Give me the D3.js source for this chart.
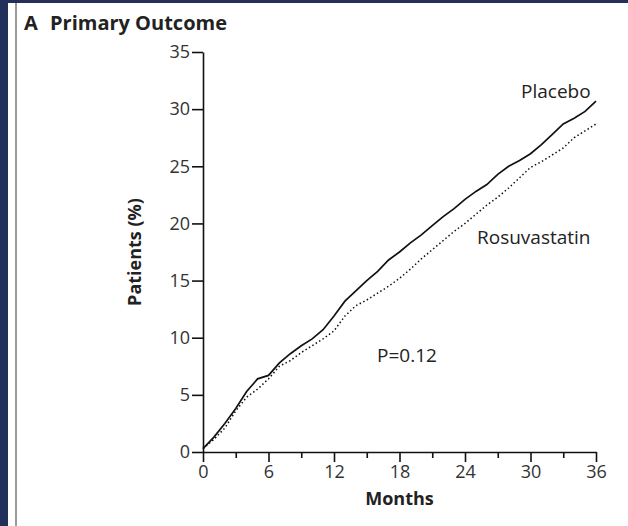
<!DOCTYPE html>
<html>
<head>
<meta charset="utf-8">
<script src="https://cdn.jsdelivr.net/npm/d3@7"></script>
<style>
  body { margin: 0; background: #fff; }
  svg text { font-family: "Open Sans", sans-serif; fill: #222; }
  .axis path, .axis line { stroke: #111; stroke-width: 1.6; }
  .axis text { font-size: 18px; fill: #333; }
  .title { font-weight: bold; font-size: 18px; }
</style>
</head>
<body>
<svg width="628" height="526"></svg>
<script>
// data (cumulative % of patients by month)
var months = [0, 1, 2, 3, 4, 5, 6, 7, 8, 9, 10, 11, 12, 13, 14, 15, 16, 17, 18,
              19, 20, 21, 22, 23, 24, 25, 26, 27, 28, 29, 30, 31, 32, 33, 34, 35, 36];
var placebo = [0.3, 1.3, 2.5, 3.8, 5.3, 6.4, 6.7, 7.8, 8.6, 9.3, 9.9, 10.7, 11.9, 13.2,
               14.1, 15.0, 15.8, 16.8, 17.5, 18.3, 19.0, 19.8, 20.6, 21.3, 22.1, 22.8,
               23.4, 24.3, 25.0, 25.5, 26.1, 26.9, 27.8, 28.7, 29.2, 29.8, 30.7];
var rosuvastatin = [0.3, 1.1, 2.1, 3.6, 4.8, 5.5, 6.4, 7.5, 8.0, 8.7, 9.3, 9.9, 10.6, 11.9,
                    12.8, 13.3, 13.9, 14.5, 15.2, 16.0, 16.9, 17.7, 18.5, 19.3, 20.0, 20.8,
                    21.6, 22.3, 23.1, 24.0, 24.9, 25.4, 26.0, 26.6, 27.5, 28.1, 28.7];
var xTicks = [0, 3, 6, 9, 12, 15, 18, 21, 24, 27, 30, 33, 36];
var yTicks = [0, 5, 10, 15, 20, 25, 30, 35];

var svg = d3.select("svg"),
    margin = { top: 52, right: 32, bottom: 74, left: 203 },
    width = +svg.attr("width") - margin.left - margin.right,
    height = +svg.attr("height") - margin.top - margin.bottom;

// page frame: navy strips and grey rule
svg.append("rect").attr("x", 0).attr("y", 0).attr("width", 628).attr("height", 3).attr("fill", "#23305c");
svg.append("rect").attr("x", 0).attr("y", 0).attr("width", 8).attr("height", 526).attr("fill", "#23305c");
svg.append("rect").attr("x", 15).attr("y", 3).attr("width", 2).attr("height", 523).attr("fill", "#9a9a9a");

var g = svg.append("g")
    .attr("transform", "translate(" + margin.left + "," + margin.top + ")");

var xScale = d3.scaleLinear().domain([0, 36]).range([0, width]),
    yScale = d3.scaleLinear().domain([0, 35]).range([height, 0]);

// x axis, labelled every 6 months
var xAxis = g.append("g")
    .attr("class", "axis")
    .attr("transform", "translate(0," + height + ")")
    .call(d3.axisBottom(xScale)
        .tickValues(xTicks)
        .tickSizeInner(10)
        .tickSizeOuter(0)
        .tickPadding(3)
        .tickFormat(function(d) { return d % 6 === 0 ? d : ""; }));
xAxis.selectAll(".tick line")
    .attr("y2", function(d) { return d % 6 === 0 ? 10 : 6; });

var yAxis = g.append("g")
    .attr("class", "axis")
    .call(d3.axisLeft(yScale)
        .tickValues(yTicks)
        .tickSizeInner(11)
        .tickSizeOuter(0)
        .tickPadding(2));

var line = d3.line()
    .x(function(d) { return xScale(d[0]); })
    .y(function(d) { return yScale(d[1]); });

g.append("path")
    .datum(d3.zip(months, rosuvastatin))
    .attr("fill", "none")
    .attr("stroke", "#111")
    .attr("stroke-width", 1.5)
    .attr("stroke-dasharray", "1.5,2.5")
    .attr("d", line);

g.append("path")
    .datum(d3.zip(months, placebo))
    .attr("fill", "none")
    .attr("stroke", "#111")
    .attr("stroke-width", 1.7)
    .attr("d", line);

// texts
svg.append("text").attr("class", "title").attr("x", 24).attr("y", 30).style("font-size", "20px").text("A");
svg.append("text").attr("class", "title").attr("x", 50).attr("y", 30).style("font-size", "20px").text("Primary Outcome");

svg.append("text")
    .attr("class", "title")
    .attr("transform", "translate(141," + (margin.top + height / 2) + ") rotate(-90)")
    .attr("text-anchor", "middle")
    .text("Patients (%)");

svg.append("text")
    .attr("class", "title")
    .attr("x", margin.left + width / 2)
    .attr("y", 505)
    .attr("text-anchor", "middle")
    .text("Months");

svg.append("text").attr("x", 521).attr("y", 98).style("font-size", "19px").text("Placebo");
svg.append("text").attr("x", 477).attr("y", 244).style("font-size", "19px").text("Rosuvastatin");
svg.append("text").attr("x", 377).attr("y", 362).style("font-size", "19px").text("P=0.12");
</script>
</body>
</html>
